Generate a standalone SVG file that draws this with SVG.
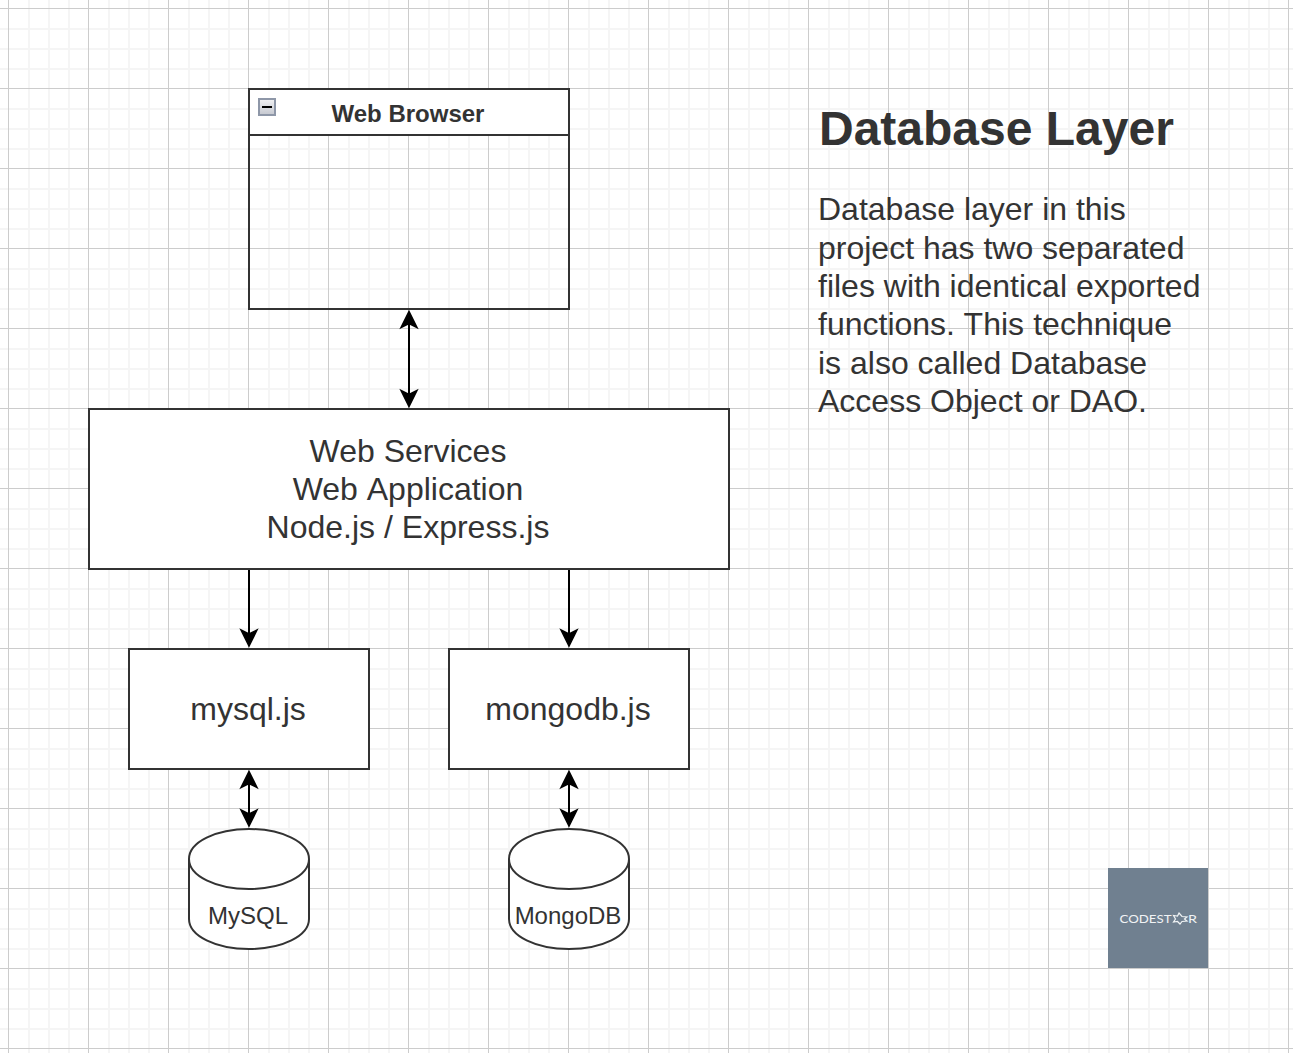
<svg xmlns="http://www.w3.org/2000/svg" width="1293" height="1053" viewBox="0 0 1293 1053">
<style>
.shape{fill:#fff;stroke:#333;stroke-width:2}
.conn{fill:none;stroke:#000;stroke-width:2}
text{font-family:"Liberation Sans",Arial,sans-serif;fill:#333;text-anchor:middle}
.big{font-size:32px}
.mid{font-size:24px}
.body{font-size:32px;text-anchor:start}
.logo-text{font-family:Lato,"Open Sans",sans-serif;font-size:12px;fill:#f0f3f5;text-anchor:start}
</style>
<defs>
<pattern id="grid" width="80" height="80" patternUnits="userSpaceOnUse" x="8" y="8">
<path d="M21 0V80M41 0V80M61 0V80M0 21H80M0 41H80M0 61H80" fill="none" stroke="#f5f5f5" stroke-width="2"/>
<path d="M.5 0V80M0 .5H80" fill="none" stroke="#cccccc" stroke-width="1"/>
</pattern>
<linearGradient id="btn" x1="0" y1="0" x2="0" y2="1">
<stop offset="0" stop-color="#f2f2f4"/>
<stop offset="1" stop-color="#c4c7cf"/>
</linearGradient>
<marker id="arrow" markerUnits="userSpaceOnUse" markerWidth="24" markerHeight="24" refX="14" refY="9" orient="auto-start-reverse" viewBox="-3 -3 24 24">
<path d="M0 1L16 9L0 17L4 9Z" fill="#000" stroke="#000" stroke-width="1.500" stroke-miterlimit="10"/>
</marker>
</defs>
<rect id="background" width="1293" height="1053" fill="#fff"/>
<rect id="grid-layer" width="1293" height="1053" fill="url(#grid)"/>
<g id="web-browser">
<rect x="249" y="89" width="320" height="46" fill="#fff"/>
<rect x="249" y="89" width="320" height="220" fill="none" stroke="#333" stroke-width="2"/>
<path d="M249 135H569" fill="none" stroke="#333" stroke-width="2"/>
<rect x="259" y="99" width="16" height="16" fill="url(#btn)" stroke="#8e97a8" stroke-width="2"/>
<path d="M262 107H272" stroke="#000" stroke-width="2"/>
<text x="408" y="122" font-weight="700" style="font-size:24px">Web Browser</text>
</g>
<g id="web-services">
<rect class="shape" x="89" y="409" width="640" height="160"/>
<text class="big" x="408" y="462">Web Services</text>
<text class="big" x="408" y="500" style="word-spacing:1.76px">Web Application</text>
<text class="big" x="408" y="538">Node.js / Express.js</text>
</g>
<g id="mysql-js">
<rect class="shape" x="129" y="649" width="240" height="120"/>
<text class="big" x="248" y="720">mysql.js</text>
</g>
<g id="mongodb-js">
<rect class="shape" x="449" y="649" width="240" height="120"/>
<text class="big" x="568" y="720">mongodb.js</text>
</g>
<g id="mysql-db">
<path class="shape" d="M189 859C189 842 216 829 249 829C282 829 309 842 309 859V919C309 936 282 949 249 949C216 949 189 936 189 919Z"/>
<path d="M189 859C189 876 216 889 249 889C282 889 309 876 309 859" fill="none" stroke="#333" stroke-width="2"/>
<text class="mid" x="248" y="924">MySQL</text>
</g>
<g id="mongodb-db">
<path class="shape" d="M509 859C509 842 536 829 569 829C602 829 629 842 629 859V919C629 936 602 949 569 949C536 949 509 936 509 919Z"/>
<path d="M509 859C509 876 536 889 569 889C602 889 629 876 629 859" fill="none" stroke="#333" stroke-width="2"/>
<text class="mid" x="568" y="924">MongoDB</text>
</g>
<g id="connectors">
<path class="conn" d="M409 313.500V404.500" marker-start="url(#arrow)" marker-end="url(#arrow)"/>
<path class="conn" d="M249 570V644" marker-end="url(#arrow)"/>
<path class="conn" d="M569 570V644" marker-end="url(#arrow)"/>
<path class="conn" d="M249 773.500V824" marker-start="url(#arrow)" marker-end="url(#arrow)"/>
<path class="conn" d="M569 773.500V824" marker-start="url(#arrow)" marker-end="url(#arrow)"/>
</g>
<g id="description">
<text x="819" y="145" font-weight="700" style="text-anchor:start;font-size:48px">Database Layer</text>
<text class="body" x="818" y="220">Database layer in this</text>
<text class="body" x="818" y="259">project has two separated</text>
<text class="body" x="818" y="297">files with identical exported</text>
<text class="body" x="818" y="335" style="word-spacing:.3px">functions. This technique</text>
<text class="body" x="818" y="374">is also called Database</text>
<text class="body" x="818" y="412">Access Object or DAO.</text>
</g>
<g id="logo">
<rect x="1108" y="868" width="100" height="100" fill="#708090"/>
<text class="logo-text" x="1119.500" y="922.500" textLength="52" lengthAdjust="spacingAndGlyphs">CODEST</text>
<path d="M1179 913L1182 916.500L1187 917L1184.500 919L1187 921L1182 921.500L1180 924L1177.500 921.500L1173.500 922L1175.500 919L1173.500 915.500L1177.500 916Z" fill="none" stroke="#f0f3f5" stroke-width="1.200"/>
<text class="logo-text" x="1188" y="922.500" textLength="9" lengthAdjust="spacingAndGlyphs">R</text>
</g>
</svg>
